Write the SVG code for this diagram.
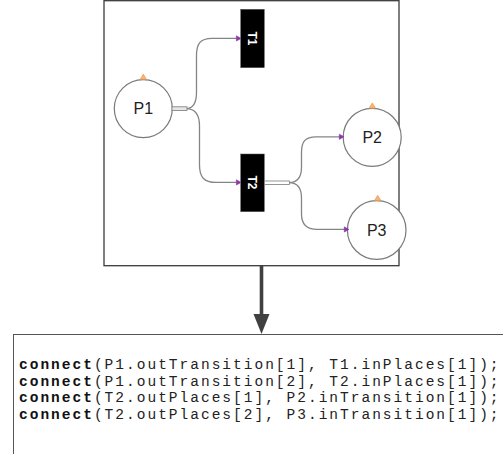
<svg xmlns="http://www.w3.org/2000/svg" width="503" height="454" viewBox="0 0 503 454">
<defs>
<style>
.frame{fill:#fff;stroke:#3a3a3a;stroke-width:1.3}
.place{fill:#fff;stroke:#7a7a7a;stroke-width:1.2}
.plabel{font-family:"Liberation Sans",Arial,sans-serif;font-size:16px;fill:#222;text-anchor:middle}
.trans{fill:#000;stroke:#555;stroke-width:0.5}
.tlabel{font-family:"Liberation Sans",Arial,sans-serif;font-size:12px;font-weight:bold;fill:#fff;text-anchor:middle}
.tok{fill:#f6b37a;stroke:#e0913f;stroke-width:0.6}
.conn{fill:none;stroke:#858585;stroke-width:1.3}
.port{fill:#e6e6e6;stroke:#7a7a7a;stroke-width:0.8}
.inarr{fill:#c02a6a;stroke:#4a4af0;stroke-width:0.6}
.code{font-family:"Liberation Mono","Courier New",monospace;font-size:14.5px;letter-spacing:2px;fill:#222}
.kw{font-weight:bold;fill:#111}
</style>
</defs>
<rect class="frame" x="104" y="0.7" width="295" height="265"/>
<g id="connectors">
<path class="conn" d="M186 108.6 C194 108.6 196.5 102 196.5 92 L196.5 56 C196.5 44 200 38.4 212 38.4 L237 38.4"/>
<path class="conn" d="M186 108.6 C195 108.6 199.5 115 199.5 126 L199.5 165 C199.5 177 204 182.4 216 182.4 L237 182.4"/>
<path class="conn" d="M289 182.6 C297 182.6 301.5 177 301.5 167 L301.5 152 C301.5 142 305 136.8 316 136.8 L340 136.8"/>
<path class="conn" d="M289 182.6 C297 182.6 301.5 188 301.5 198 L301.5 214 C301.5 224 306 229.4 317 229.4 L345 229.4"/>
<path d="M261.5 266 L261.5 316" fill="none" stroke="#404040" stroke-width="3.6"/>
<polygon points="253.5,314 269.5,314 261.5,334" fill="#404040"/>
</g>
<g id="P1">
<circle class="place" cx="143.3" cy="108.6" r="29"/>
<polygon class="tok" points="140,79.6 146.6,79.6 143.3,74.2"/>
<rect class="port" x="172" y="106.8" width="15" height="3.6"/>
<text class="plabel" x="143.3" y="114.3">P1</text>
</g>
<g id="T1">
<rect class="trans" x="240.7" y="9.3" width="23.6" height="58.4"/>
<polygon class="inarr" points="236.4,35.8 241,38.4 236.4,41"/>
<text class="tlabel" transform="translate(252.5,38.5) rotate(90)" dy="4.3">T1</text>
</g>
<g id="T2">
<rect class="trans" x="240.7" y="154" width="23.6" height="57.7"/>
<polygon class="inarr" points="236.4,179.8 241,182.4 236.4,185"/>
<rect x="264.5" y="181" width="25" height="3.4" fill="#fff" stroke="#7a7a7a" stroke-width="0.8"/>
<text class="tlabel" transform="translate(252.5,182.5) rotate(90)" dy="4.3">T2</text>
</g>
<g id="P2">
<circle class="place" cx="372.2" cy="137.3" r="29"/>
<polygon class="tok" points="369,108.3 375.6,108.3 372.3,102.9"/>
<polygon class="inarr" points="339.3,134.2 344,136.8 339.3,139.4"/>
<text class="plabel" x="372.2" y="143">P2</text>
</g>
<g id="P3">
<circle class="place" cx="376.7" cy="230" r="29.3"/>
<polygon class="tok" points="374.4,200.7 381,200.7 377.7,195.3"/>
<polygon class="inarr" points="344.3,226.8 349,229.4 344.3,232"/>
<text class="plabel" x="376.7" y="235.7">P3</text>
</g>
<g id="code">
<rect x="13.5" y="334.5" width="500" height="130" fill="#fff" stroke="#555" stroke-width="1"/>
<text class="code" x="19" y="369">
<tspan class="kw">connect</tspan>(P1.outTransition[1], T1.inPlaces[1]);</text>
<text class="code" x="19" y="385.5"><tspan class="kw">connect</tspan>(P1.outTransition[2], T2.inPlaces[1]);</text>
<text class="code" x="19" y="402"><tspan class="kw">connect</tspan>(T2.outPlaces[1], P2.inTransition[1]);</text>
<text class="code" x="19" y="418.5"><tspan class="kw">connect</tspan>(T2.outPlaces[2], P3.inTransition[1]);</text>
</g>
</svg>
